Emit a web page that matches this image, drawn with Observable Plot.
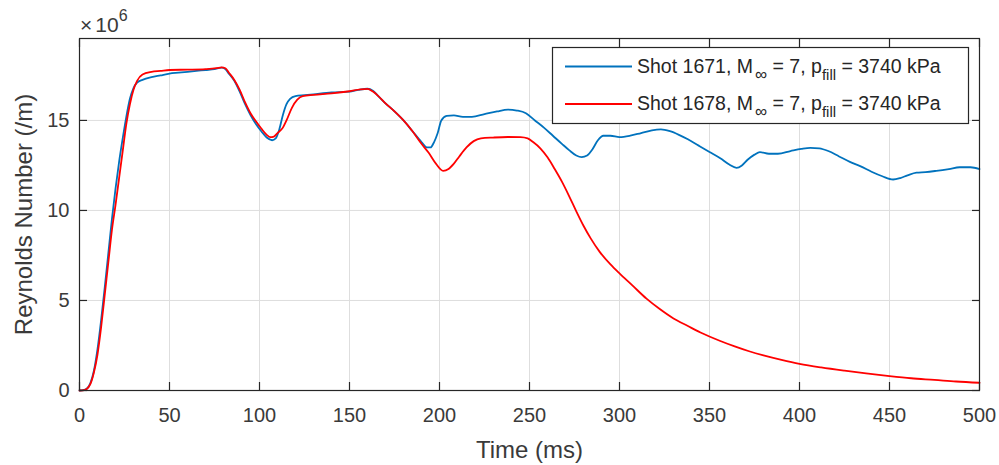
<!DOCTYPE html>
<html><head><meta charset="utf-8">
<script src="https://cdn.jsdelivr.net/npm/d3@7"></script>
<script src="https://cdn.jsdelivr.net/npm/@observablehq/plot@0.6"></script>
<style>body{margin:0;background:#fff}#chart{width:999px;height:465px}</style>
</head><body><div id="chart"></div>
<script>
// ---- data (Reynolds number in units of 1e6 /m, time in ms) ----
const timeBlue = [0,2,4,6,8,10,12,14,16,18,20,22,24,26,28,30,32,35,40,45,50,55,60,65,70,75,79,81,83,86,89,92,95,98,101,104,107,109,111,113,115,117,120,125,130,140,150,155,160,163,166,170,175,180,185,190,193,195,197,199,201,204,208,213,218,225,232,238,243,248,253,258,263,268,272,276,279,282,285,288,291,295,300,306,312,318,323,328,333,338,344,350,356,361,365,368,371,375,378,383,388,395,401,406,411,416,422,428,434,440,446,452,456,460,465,470,476,483,489,495,500];
const reBlue = [0,0.02,0.1,0.4,1.1,2.3,3.9,5.7,7.6,9.5,11.2,12.7,14.0,15.2,16.2,16.8,17.1,17.25,17.4,17.5,17.6,17.65,17.7,17.75,17.8,17.85,17.93,17.85,17.6,17.2,16.6,15.9,15.3,14.8,14.4,14.05,13.9,14.0,14.5,15.3,15.9,16.2,16.35,16.4,16.45,16.55,16.6,16.7,16.76,16.65,16.35,15.95,15.5,15.0,14.4,13.8,13.5,13.5,13.8,14.3,15.0,15.25,15.28,15.2,15.2,15.35,15.5,15.6,15.55,15.4,15.0,14.6,14.15,13.7,13.35,13.05,12.96,13.05,13.4,13.9,14.15,14.15,14.07,14.15,14.3,14.45,14.5,14.4,14.2,13.95,13.6,13.25,12.9,12.55,12.37,12.5,12.8,13.1,13.24,13.15,13.15,13.3,13.42,13.48,13.45,13.3,13.0,12.7,12.45,12.15,11.9,11.72,11.8,11.95,12.1,12.13,12.2,12.3,12.4,12.4,12.3];
const timeRed = [0,2,4,6,8,10,12,14,16,18,20,22,24,26,28,30,32,35,40,45,50,60,70,76,79,81,83,86,89,92,95,98,101,104,106,108,110,113,115,118,121,124,130,140,150,156,160,163,166,170,175,180,185,190,194,198,202,205,208,211,215,219,223,230,238,245,249,252,256,260,264,268,272,276,280,284,289,295,300,307,315,322,330,338,345,356,364,372,380,390,400,412,425,437,450,462,475,487,500];
const reRed = [0,0.01,0.08,0.35,1.0,2.0,3.5,5.3,7.1,8.9,10.3,11.8,13.3,14.8,15.9,16.7,17.2,17.55,17.7,17.75,17.8,17.82,17.85,17.9,17.95,17.9,17.65,17.25,16.7,16.0,15.4,14.95,14.55,14.2,14.07,14.1,14.3,14.6,15.0,15.7,16.15,16.35,16.42,16.5,16.62,16.72,16.75,16.6,16.35,15.95,15.5,15.0,14.4,13.7,13.2,12.6,12.2,12.3,12.6,13.0,13.5,13.85,14.0,14.05,14.08,14.07,14.0,13.8,13.45,12.95,12.3,11.6,10.8,9.95,9.15,8.45,7.7,7.0,6.5,5.85,5.1,4.55,4.0,3.58,3.22,2.75,2.45,2.18,1.95,1.7,1.48,1.28,1.1,0.95,0.8,0.68,0.59,0.5,0.43];
const seriesNames = ["Shot 1671", "Shot 1678"];
const seriesColors = ["#0072BD", "#FF0000"];
const machNumbers = [7, 7];
const fillPressures = [3740, 3740];
const xTicks = [0,50,100,150,200,250,300,350,400,450,500];
const yTicks = [0,5,10,15];
const xDomain = [0, 500];
const yDomain = [0, 19.55];
const xLabel = "Time (ms)";
const yLabel = "Reynolds Number (/m)";

const data = [
  ...timeBlue.map((t, i) => ({t, re: reBlue[i], s: seriesNames[0]})),
  ...timeRed.map((t, i) => ({t, re: reRed[i], s: seriesNames[1]}))
];

const font = '"Liberation Sans", Arial, Helvetica, sans-serif';
const axisColor = "#262626";
const tickText = "#3a3a3a";
const tk = 8;

const plot = Plot.plot({
  width: 999, height: 465,
  marginLeft: 79, marginRight: 20, marginTop: 38, marginBottom: 75,
  style: {fontFamily: font, background: "#fff", color: axisColor, overflow: "visible"},
  x: {domain: xDomain},
  y: {domain: yDomain},
  color: {domain: seriesNames, range: seriesColors},
  marks: [
    Plot.gridX(xTicks, {stroke: "#dedede", strokeOpacity: 1, strokeWidth: 1}),
    Plot.gridY(yTicks, {stroke: "#dedede", strokeOpacity: 1, strokeWidth: 1}),
    Plot.line(data, {x: "t", y: "re", z: "s", stroke: "s", strokeWidth: 1.8, curve: "monotone-x"}),
    Plot.axisX(xTicks, {anchor: "bottom", tickSize: 0, tickPadding: 17, fontSize: 20, fill: tickText, label: null}),
    Plot.axisY(yTicks, {anchor: "left", tickSize: 0, tickPadding: 10, fontSize: 20, fill: tickText, label: null}),
    Plot.axisX(xTicks, {anchor: "bottom", tickSize: tk, dy: -tk, tickFormat: () => "", label: null, stroke: axisColor, strokeWidth: 1.2}),
    Plot.axisX(xTicks, {anchor: "top", tickSize: tk, dy: tk, tickFormat: () => "", label: null, stroke: axisColor, strokeWidth: 1.2}),
    Plot.axisY(yTicks, {anchor: "left", tickSize: tk, dx: tk, tickFormat: () => "", label: null, stroke: axisColor, strokeWidth: 1.2}),
    Plot.axisY(yTicks, {anchor: "right", tickSize: tk, dx: -tk, tickFormat: () => "", label: null, stroke: axisColor, strokeWidth: 1.2}),
    Plot.frame({stroke: axisColor, strokeWidth: 1.2}),
    Plot.text([xLabel], {text: d => d, frameAnchor: "bottom", textAnchor: "middle", lineAnchor: "bottom", dy: 67, fontSize: 24, fill: tickText}),
    Plot.text([yLabel], {text: d => d, frameAnchor: "left", textAnchor: "middle", lineAnchor: "bottom", rotate: -90, dx: -48, fontSize: 24, fill: tickText})
  ]
});
document.getElementById("chart").appendChild(plot);

const svg = d3.select(plot);
// exponent label
const ex = svg.append("text").attr("x", 80).attr("y", 32).attr("text-anchor", "start")
  .attr("font-family", font).attr("font-size", 21).attr("fill", tickText);
ex.append("tspan").text("\u00d7");
ex.append("tspan").attr("dx", 3).text("10");
ex.append("tspan").attr("dy", -11).attr("font-size", 16).text("6");

// legend
const lg = svg.append("g").attr("font-family", font).attr("font-size", 19.5).attr("fill", axisColor).attr("text-anchor", "start");
lg.append("rect").attr("x", 552.5).attr("y", 47.5).attr("width", 416).attr("height", 76)
  .attr("fill", "#fff").attr("stroke", axisColor).attr("stroke-width", 1.2);
seriesNames.forEach((name, i) => {
  const yy = 66.5 + i * 37.5;
  lg.append("line").attr("x1", 565).attr("x2", 632).attr("y1", yy).attr("y2", yy)
    .attr("stroke", seriesColors[i]).attr("stroke-width", 1.8);
  const tx = lg.append("text").attr("x", 637).attr("y", yy + 6).attr("text-anchor", "start");
  tx.append("tspan").text(`${name}, M`);
  tx.append("tspan").attr("dy", 7).attr("dx", 2).attr("font-size", 17).text("\u221e");
  tx.append("tspan").attr("dy", -7).text(` = ${machNumbers[i]}, p`);
  tx.append("tspan").attr("dy", 7).attr("font-size", 15).text("fill");
  tx.append("tspan").attr("dy", -7).text(` = ${fillPressures[i]} kPa`);
});
</script>
</body></html>
